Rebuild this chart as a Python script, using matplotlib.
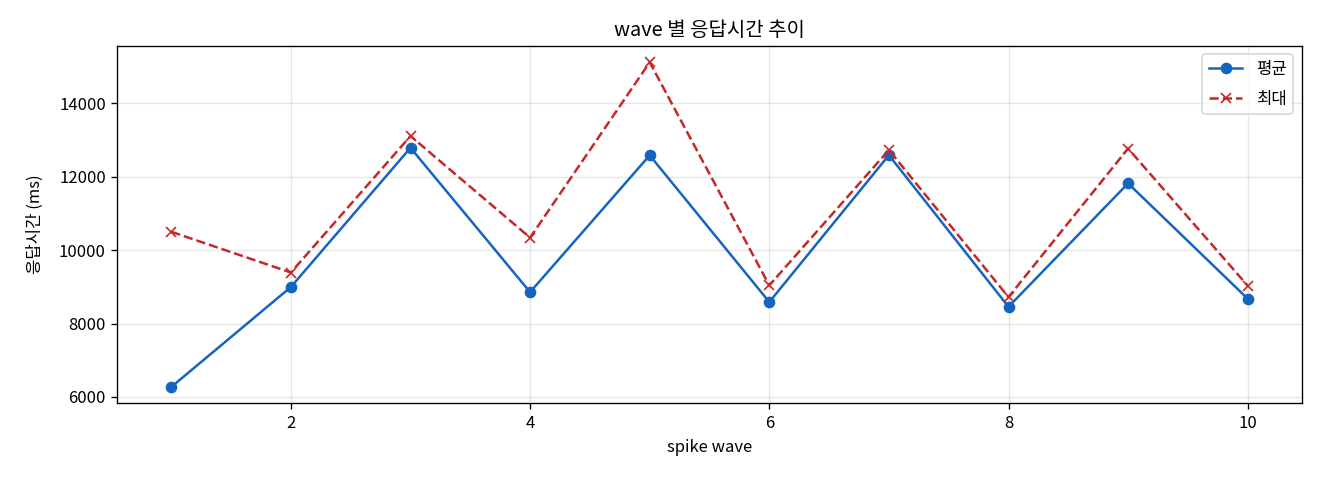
import matplotlib
matplotlib.use("Agg")
import matplotlib.pyplot as plt

plt.rcParams['font.family'] = ['Noto Sans CJK KR', 'DejaVu Sans']
plt.rcParams['axes.unicode_minus'] = False

waves = [1, 2, 3, 4, 5, 6, 7, 8, 9, 10]
avg_ms = [6270, 8995, 12790, 8855, 12585, 8585, 12590, 8455, 11820, 8675]
max_ms = [10500, 9390, 13110, 10340, 15120, 9040, 12730, 8720, 12770, 9030]

fig, ax = plt.subplots(figsize=(11, 4), dpi=120)
ax.plot(waves, avg_ms, marker='o', color='#1565C0', linestyle='-', label='평균')
ax.plot(waves, max_ms, marker='x', color='#C62828', linestyle='--', label='최대')
ax.set_title('wave 별 응답시간 추이')
ax.set_xlabel('spike wave')
ax.set_ylabel('응답시간 (ms)', labelpad=9)
ax.grid(True, alpha=0.3)
ax.legend(loc='upper right', labelspacing=0.75)
fig.subplots_adjust(left=0.089, right=0.986, top=0.904, bottom=0.16)
fig.savefig('out.png')
